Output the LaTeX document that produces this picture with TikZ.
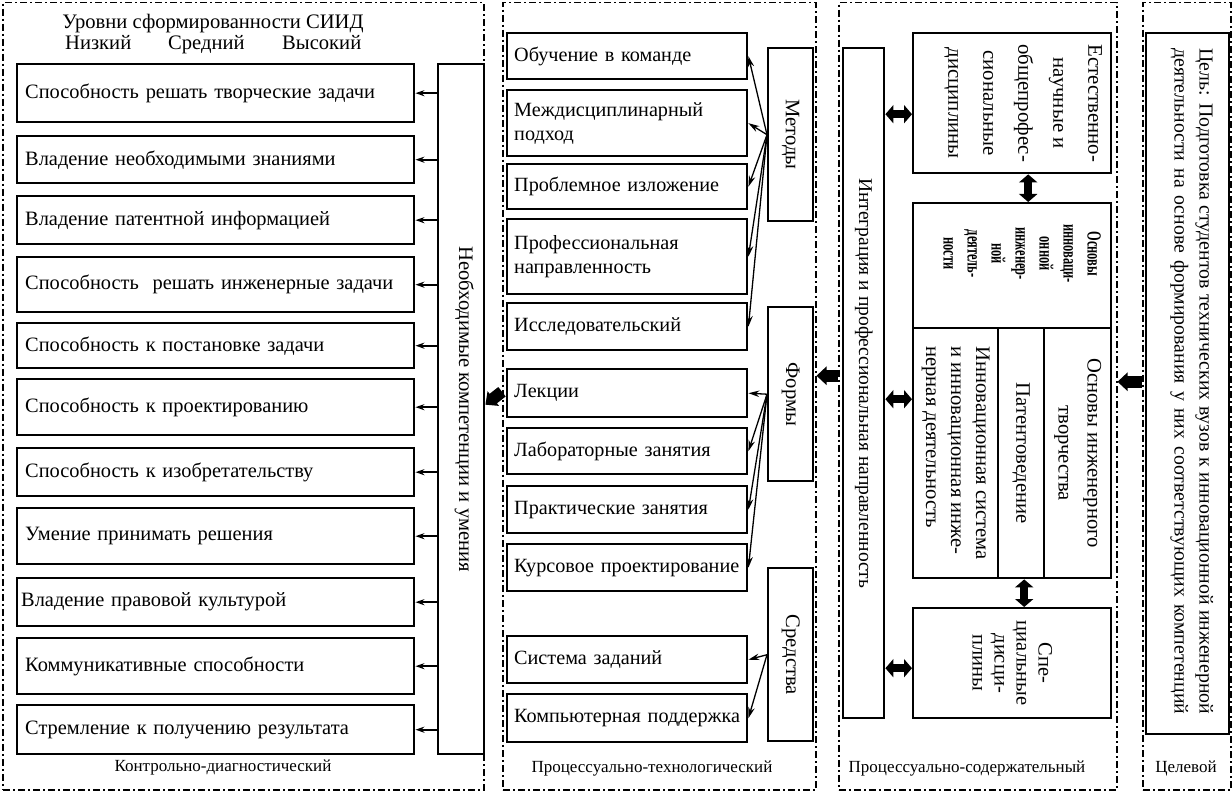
\documentclass[tikz,border=0pt]{standalone}
\usepackage{fontspec}
\usepackage{graphicx}
\setmainfont{Liberation Serif}
\usetikzlibrary{arrows.meta}
\begin{document}
\begin{tikzpicture}[x=1pt,y=-1pt,
  frame/.style={draw, line width=1.5pt, dash pattern=on 7pt off 3pt on 2pt off 3pt, anchor=north west, inner sep=0pt},
  box/.style={draw, line width=2.4pt, anchor=north west, inner sep=0pt},
  lbox/.style={draw, line width=2.4pt, anchor=north west, inner xsep=8pt, inner ysep=0pt,
     text width=381pt, minimum width=397pt, align=left, font=\fontsize{20.4}{24}\selectfont},
  mbox/.style={draw, line width=2.4pt, anchor=north west, inner xsep=7pt, inner ysep=0pt,
     text width=226pt, minimum width=240pt, align=left, font=\fontsize{20.2}{24}\selectfont},
  txt/.style={inner sep=0pt},
  rtxt/.style={inner sep=0pt, rotate=-90, align=center},
  sarr/.style={line width=1.8pt, -{Stealth[length=9pt,width=6pt]}},
  marr/.style={line width=1.3pt, -{Stealth[length=11pt,width=6.5pt]}},
  big/.style={line width=12pt, -{Triangle[width=18pt,length=10pt]}},
  dbl/.style={line width=8pt, {Triangle[width=18pt,length=8pt]}-{Triangle[width=18pt,length=8pt]}}
]
\useasboundingbox (0,0) rectangle (1232,791);

% frames
\node[frame, minimum width=481pt, minimum height=787pt] (f1) at (2,2) {};
\node[frame, minimum width=313pt, minimum height=787pt] (f2) at (502,2) {};
\node[frame, minimum width=278pt, minimum height=787pt] (f3) at (838,2) {};
\node[frame, minimum width=88pt, minimum height=787pt] (f4) at (1142,2) {};

% frame labels
\node[txt, anchor=base, font=\fontsize{17}{20}\selectfont] (lab1) at (223,771) {Контрольно-диагностический};
\node[txt, anchor=base, font=\fontsize{17}{20}\selectfont] (lab2) at (652,772) {Процессуально-технологический};
\node[txt, anchor=base, font=\fontsize{17}{20}\selectfont] (lab3) at (967,772) {Процессуально-содержательный};
\node[txt, anchor=base, font=\fontsize{17}{20}\selectfont] (lab4) at (1186,772) {Целевой};

% header
\node[txt, anchor=base, font=\fontsize{20.6}{24}\selectfont] (title) at (213,29) {Уровни сформированности СИИД};
\node[txt, anchor=base west, font=\fontsize{20.6}{24}\selectfont] (low) at (65,50) {Низкий};
\node[txt, anchor=base west, font=\fontsize{20.6}{24}\selectfont] (mid) at (168,50) {Средний};
\node[txt, anchor=base west, font=\fontsize{20.6}{24}\selectfont] (high) at (282,50) {Высокий};

% left column
\node[lbox, minimum height=58pt] (c1) at (16,63) {Способность решать творческие задачи};
\node[lbox, minimum height=47pt] (c2) at (16,135) {Владение необходимыми знаниями};
\node[lbox, minimum height=48pt] (c3) at (16,195) {Владение патентной информацией};
\node[lbox, minimum height=55pt] (c4) at (16,256) {Способность~~решать инженерные задачи};
\node[lbox, minimum height=45pt] (c5) at (16,322) {Способность к постановке задачи};
\node[lbox, minimum height=56pt] (c6) at (16,378) {Способность к проектированию};
\node[lbox, minimum height=48pt] (c7) at (16,447) {Способность к изобретательству};
\node[lbox, minimum height=56pt] (c8) at (16,507) {Умение принимать решения};
\node[lbox, minimum height=48pt, inner xsep=4pt, text width=389pt] (c9) at (16,577) {Владение правовой культурой};
\node[lbox, minimum height=56pt] (c10) at (16,637) {Коммуникативные способности};
\node[lbox, minimum height=49pt] (c11) at (16,704) {Стремление к получению результата};

\node[box, minimum width=46pt, minimum height=690pt] (comp) at (437,63) {};
\node[rtxt, font=\fontsize{20.6}{24}\selectfont] (compT) at ([xshift=3pt]comp.center) {Необходимые компетенции и умения};

\foreach \i in {1,...,11}{
  \draw[sarr] (comp.west |- c\i.east) -- (c\i.east);
}

% middle column
\node[mbox, minimum height=46pt] (m1) at (506,32) {Обучение в команде};
\node[mbox, minimum height=66pt] (m2) at (506,89) {Междисциплинарный\\подход};
\node[mbox, minimum height=45pt] (m3) at (506,163) {Проблемное изложение};
\node[mbox, minimum height=75pt] (m4) at (506,218) {Профессиональная\\направленность};
\node[mbox, minimum height=47pt] (m5) at (506,302) {Исследовательский};
\node[mbox, minimum height=48pt] (f_1) at (506,368) {Лекции};
\node[mbox, minimum height=46pt] (f_2) at (506,427) {Лабораторные занятия};
\node[mbox, minimum height=47pt] (f_3) at (506,485) {Практические занятия};
\node[mbox, minimum height=47pt] (f_4) at (506,543) {Курсовое~проектирование};
\node[mbox, minimum height=47pt] (s_1) at (506,635) {Система заданий};
\node[mbox, minimum height=48pt] (s_2) at (506,693) {Компьютерная~поддержка};

\node[box, minimum width=45pt, minimum height=173pt] (met) at (767,47) {};
\node[rtxt, font=\fontsize{20.6}{24}\selectfont] (metT) at (met.center) {Методы};
\node[box, minimum width=45pt, minimum height=174pt] (frm) at (767,306) {};
\node[rtxt, font=\fontsize{20.6}{24}\selectfont] (frmT) at (frm.center) {Формы};
\node[box, minimum width=45pt, minimum height=173pt] (srd) at (767,567) {};
\node[rtxt, font=\fontsize{20.6}{24}\selectfont] (srdT) at (srd.center) {Средства};

\foreach \t in {m1,m2,m3,m4,m5}{\draw[marr] (met.west) -- (\t.east);}
\foreach \t in {f_1,f_2,f_3,f_4}{\draw[marr] (frm.west) -- (\t.east);}
\foreach \t in {s_1,s_2}{\draw[marr] (srd.west) -- (\t.east);}

% content column
\node[box, minimum width=41pt, minimum height=670pt] (int) at (842,47) {};
\node[rtxt, font=\fontsize{19.5}{24}\selectfont] (intT) at (int.center) {Интеграция и профессиональная направленность};

\node[box, minimum width=198pt, minimum height=140pt] (nat) at (912,32) {};
\node[rtxt, font=\fontsize{20.8}{35}\selectfont] (natT) at ([xshift=11pt]nat.center) {Естественно-\\научные и\\общепрофес-\\сиональные\\дисциплины};

\node[box, minimum width=198pt, minimum height=125pt] (osn) at (912,202) {};
\node[rtxt, font=\bfseries\fontsize{20}{24}\selectfont] (osnT) at ([xshift=10pt,yshift=12pt]osn.center) {\scalebox{0.62}[1]{Основы}\\\scalebox{0.62}[1]{инноваци-}\\\scalebox{0.62}[1]{онной}\\\scalebox{0.62}[1]{инженер-}\\\scalebox{0.62}[1]{ной}\\\scalebox{0.62}[1]{деятель-}\\\scalebox{0.62}[1]{ности}};

\node[box, minimum width=85pt, minimum height=250pt] (cin) at (912,327) {};
\node[box, minimum width=46pt, minimum height=250pt] (cpat) at (997,327) {};
\node[box, minimum width=67pt, minimum height=250pt] (cosn) at (1043,327) {};
\node[rtxt, align=left, font=\fontsize{20.6}{25}\selectfont] (cinT) at (cin.center) {Инновационная система\\и инновационная инже-\\нерная деятельность};
\node[rtxt, font=\fontsize{20.6}{25}\selectfont] (cpatT) at (cpat.center) {Патентоведение};
\node[rtxt, font=\fontsize{20.6}{29}\selectfont] (cosnT) at (cosn.center) {Основы инженерного\\творчества};

\node[box, minimum width=198pt, minimum height=110pt] (spec) at (912,607) {};
\node[rtxt, font=\fontsize{20.5}{22}\selectfont] (specT) at (spec.center) {Спе-\\циальные\\дисци-\\плины};

\draw[dbl] ([yshift=-11pt]int.east |- nat.west) -- ([yshift=-11pt]nat.west);
\draw[dbl] ([xshift=16pt]nat.south) -- ([xshift=16pt]osn.north);
\draw[dbl] ([yshift=54pt]int.east |- cin.west) -- ([yshift=54pt]cin.west);
\draw[dbl] ([xshift=3pt]cpat.south) -- ([xshift=3pt]cpat.south |- spec.north);
\draw[dbl] ([yshift=-5pt]int.east |- spec.west) -- ([yshift=-5pt]spec.west);

% goal column
\node[box, minimum width=83pt, minimum height=701pt] (goal) at (1145,32) {};
\node[rtxt, align=left, font=\fontsize{19.8}{25}\selectfont] (goalT) at ([xshift=4pt,yshift=2.5pt]goal.center) {\makebox[666pt][s]{Цель: Подготовка студентов технических вузов к инновационной инженерной}\\\makebox[666pt][s]{деятельности на основе формирования у них соответствующих компетенций}};

% big arrows between stages
\draw[big] ([yshift=14.5pt]f4.west) -- ([yshift=14.5pt]f3.east);
\draw[big] ([yshift=20.5pt]f3.west) -- ([yshift=20.5pt]f2.east);
\draw[big] ([yshift=4.5pt]f2.west) -- ([yshift=4.5pt]comp.east);
\end{tikzpicture}
\end{document}
